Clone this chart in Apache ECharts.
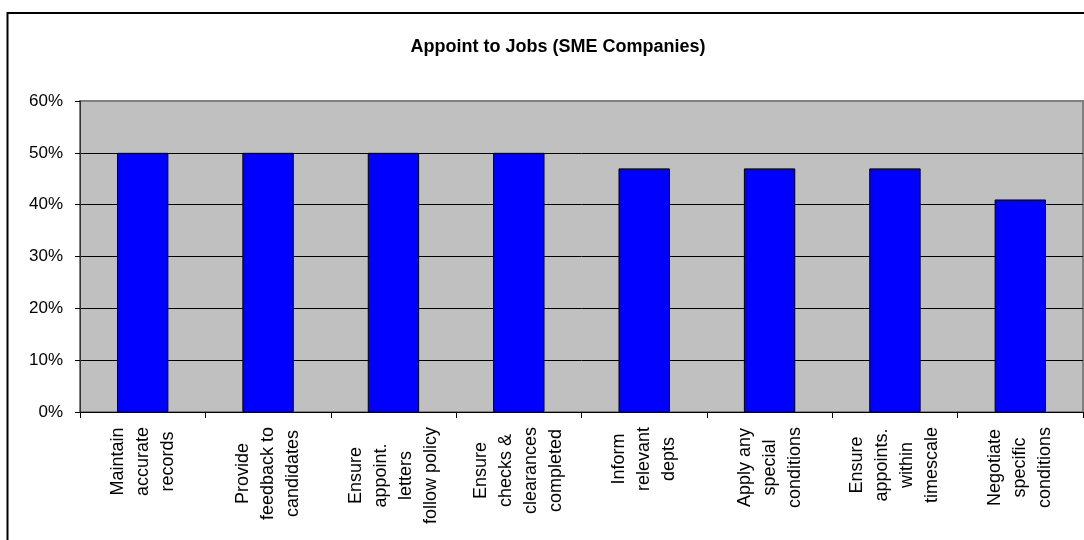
<!DOCTYPE html>
<html>
<head>
<meta charset="utf-8">
<script src="https://cdn.jsdelivr.net/npm/echarts@6/dist/echarts.min.js"></script>
<style>
  html, body { margin: 0; padding: 0; background: #fff; }
  #chart { width: 1084px; height: 540px; }
</style>
</head>
<body>
<div id="chart"></div>
<script>
// Share of SME companies carrying out each appointment task
const categories = [
  'Maintain\naccurate\nrecords',
  'Provide\nfeedback to\ncandidates',
  'Ensure\nappoint.\nletters\nfollow policy',
  'Ensure\nchecks &\nclearances\ncompleted',
  'Inform\nrelevant\ndepts',
  'Apply any\nspecial\nconditions',
  'Ensure\nappoints.\nwithin\ntimescale',
  'Negotiate\nspecific\nconditions'
];
const values = [50, 50, 50, 50, 47, 47, 47, 41];
const yTicks = { min: 0, max: 60, interval: 10 };
const titleText = 'Appoint to Jobs (SME Companies)';

const FONT = '"Liberation Sans", Arial, sans-serif';
const chart = echarts.init(document.getElementById('chart'), null, { renderer: 'canvas' });

chart.setOption({
  backgroundColor: '#fff',
  animation: false,
  title: {
    text: titleText,
    left: 553,
    top: 33,
    textAlign: 'center',
    textStyle: { fontFamily: FONT, fontSize: 18, fontWeight: 'bold', color: '#000' }
  },
  graphic: [{
    type: 'rect',
    silent: true,
    z: -1,
    shape: { x: 7.5, y: 13, width: 1200, height: 1000 },
    style: { fill: null, stroke: '#000', lineWidth: 2 }
  }],
  grid: {
    left: 80, right: 1, top: 101, bottom: 128,
    show: true,
    backgroundColor: '#C0C0C0',
    borderColor: '#808080',
    borderWidth: 2
  },
  xAxis: {
    type: 'category',
    data: categories,
    axisLine: { show: true, lineStyle: { color: '#000', width: 1 } },
    axisTick: { show: true, length: 6, lineStyle: { color: '#000' } },
    axisLabel: {
      interval: 0,
      rotate: 90,
      margin: 15,
      fontFamily: FONT,
      fontSize: 18,
      lineHeight: 25,
      color: '#000',
      formatter: function (v) {
        return v.split('\n').map(function (s) { return '{c|' + s + '}'; }).join('\n');
      },
      rich: {
        c: { align: 'center', fontFamily: FONT, fontSize: 18, lineHeight: 25, color: '#000' }
      }
    }
  },
  yAxis: {
    type: 'value',
    min: yTicks.min,
    max: yTicks.max,
    interval: yTicks.interval,
    axisLine: { show: true, lineStyle: { color: '#333', width: 1 } },
    axisTick: { show: true, length: 5, lineStyle: { color: '#000' } },
    axisLabel: {
      formatter: '{value}%',
      margin: 17,
      fontFamily: FONT,
      fontSize: 17,
      color: '#000'
    },
    splitLine: {
      show: true,
      showMaxLine: false,
      lineStyle: { color: '#000', width: 1 }
    }
  },
  series: [{
    type: 'bar',
    data: values,
    barCategoryGap: '59%',
    itemStyle: { color: '#0000FF', borderColor: '#000', borderWidth: 1 }
  }]
});
</script>
</body>
</html>
